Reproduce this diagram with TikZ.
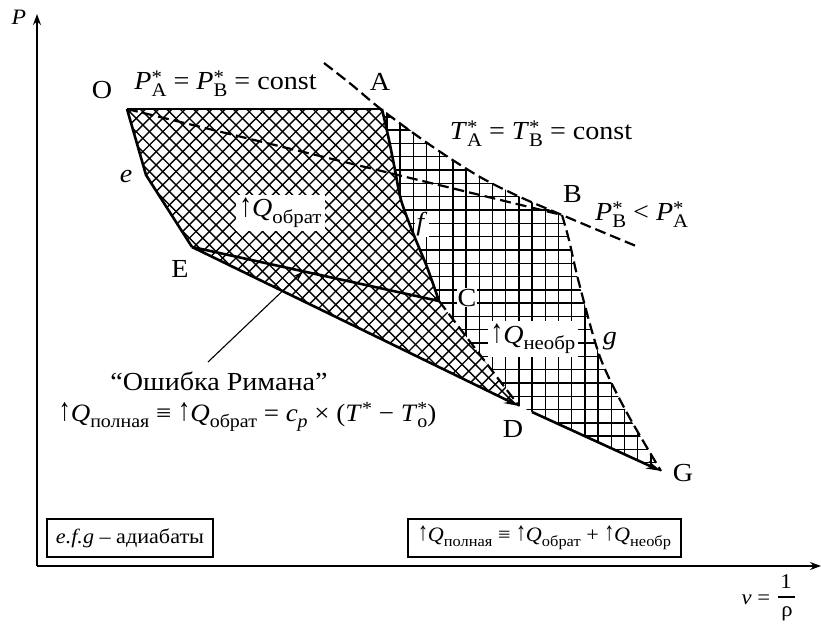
\documentclass[tikz,border=0pt]{standalone}
\usepackage{fontspec}
\setmainfont{Liberation Serif}[FakeStretch=1.08]
\usepackage{graphicx}
\usetikzlibrary{arrows.meta,calc}

\newcommand\lox[1]{\raisebox{-0.25em}{\scalebox{0.74}{#1}}}
\newcommand\upx[1]{\raisebox{0.26em}{\scalebox{0.74}{#1}}}
\newcommand\sx[1]{\rlap{\upx{*}}\lox{#1}}
\newcommand\uar{\raisebox{0.02em}{\scalebox{0.9}[1.28]{↑}}}

\begin{document}
\begin{tikzpicture}[x=1pt,y=-1pt,
  lbl/.style={inner sep=0pt, font=\fontsize{26}{30}\selectfont},
  smalllbl/.style={inner sep=0pt, font=\fontsize{21}{25}\selectfont},
  whitelbl/.style={lbl, fill=white, inner sep=3pt},
  thickline/.style={line width=2.6pt, line join=round},
  dashline/.style={line width=2.2pt, dash pattern=on 11pt off 5pt},
  hatchline/.style={line width=1.4pt},
  axis/.style={line width=1.4pt, -{Stealth[length=11pt,width=8pt]}},
  endarrow/.style={-{Stealth[length=15pt,width=8pt]}},
  boxlbl/.style={draw, line width=1.2pt, inner sep=0pt, font=\fontsize{20.5}{25}\selectfont}
]
\useasboundingbox (0,0) rectangle (821,628);

% key points
\coordinate (O) at (127,109);
\coordinate (A) at (382,109);
\coordinate (B) at (562,215);
\coordinate (C) at (439,301);
\coordinate (D) at (519,406);
\coordinate (Dp) at (532,412);
\coordinate (E) at (192,247);
\coordinate (G) at (661,471);
\coordinate (ek) at (146,175);
\coordinate (Ttop) at (324,63);
\coordinate (Tend) at (636,246);

% cross-hatched region (reversible heat)
\begin{scope}
\clip (O) -- (A) -- plot[smooth] coordinates {(382,109) (389,140) (395,170) (401,200) (413,233) (427,267) (439,301)} -- (D) -- (E) -- (ek) -- cycle;
\foreach \k in {0,...,26} {
  \pgfmathsetmacro\c{-62+13.3*\k}
  \draw[hatchline] ({\c+100},100) -- ({\c+420},420);
}
\foreach \k in {0,...,53} {
  \pgfmathsetmacro\d{228+13.3*\k}
  \draw[hatchline] ({\d-100},100) -- ({\d-420},420);
}
\end{scope}

% square grid region (irreversible heat)
\begin{scope}
\clip (A) -- (433,147) -- (480,177) -- (520,197) -- (B) -- plot[smooth] coordinates {(562,215) (569,240) (579,283) (600,357) (627,413) (661,471)} -- (D) -- (C) -- plot[smooth] coordinates {(439,301) (427,267) (413,233) (401,200) (395,170) (389,140) (382,109)} -- cycle;
\foreach \k in {-3,...,19} {
  \pgfmathsetmacro\xx{413.3+13.2*\k}
  \draw[hatchline] (\xx,95) -- (\xx,480);
}
\foreach \k in {-9,...,20} {
  \pgfmathsetmacro\yy{210+13.3*\k}
  \draw[hatchline] (370,\yy) -- (670,\yy);
}
\end{scope}

% labels on white background
\node[whitelbl, anchor=base] (qobr) at (280.5,217) {\uar\textit{Q}\lox{обрат}};
\node[whitelbl, anchor=base] (qneo) at (533,343) {\uar\textit{Q}\lox{необр}};
\node[whitelbl, inner sep=1pt] (lblf) at (422,224) {\textit{f}};
\node[whitelbl, inner sep=1pt, anchor=base] (lblC) at (467,306) {C};

% dashed lines
\draw[dashline] plot[smooth] coordinates {(Ttop) (352,85) (382,110) (433,147) (480,177) (520,197) (B) (600,231) (Tend)};
\draw[dashline] (O) -- (B);
\draw[dashline] plot[smooth] coordinates {(B) (569,240) (579,283) (600,357) (627,413) (G)};
\draw[dashline] (C) -- (D);

% solid lines
\draw[thickline] (O) -- (A);
\draw[thickline] plot[smooth] coordinates {(A) (389,140) (395,170) (401,200) (413,233) (427,267) (C)};
\draw[thickline] (O) -- (ek) -- (E);
\draw[thickline] (E) -- (C);
\draw[thickline, endarrow] (E) -- (D);
\draw[thickline, endarrow] (Dp) -- (G);

% point labels
\node[lbl, anchor=base] (lblO) at (102,99) {O};
\node[lbl, anchor=base] (lblA) at (380,91) {A};
\node[lbl, anchor=base] (lblB) at (572.5,203) {B};
\node[lbl, anchor=base] (lblD) at (513,437) {D};
\node[lbl, anchor=base] (lblE) at (180,277) {E};
\node[lbl, anchor=base] (lblG) at (683,481) {G};
\node[lbl, anchor=base] (lble) at (126,183) {\textit{e}};
\node[lbl, anchor=base] (lblg) at (610,344) {\textit{g}};

% equations
\node[lbl, anchor=base] (eqP) at (225.5,90) {\textit{P}\sx{A} = \textit{P}\sx{B} = const};
\node[lbl, anchor=base] (eqT) at (541,140) {\textit{T}\sx{A} = \textit{T}\sx{B} = const};
\node[lbl, anchor=base] (ineq) at (641.7,221) {\textit{P}\sx{B} < \textit{P}\sx{A}};

% Riemann error
\node[lbl, anchor=base] (riemann) at (219,390) {“Ошибка Римана”};
\node[lbl, anchor=base, font=\fontsize{25}{30}\selectfont] (formula) at (247.5,421) {\uar\textit{Q}\lox{полная} ≡ \uar\textit{Q}\lox{обрат} = \textit{c}\lox{\textit{p}} × (\textit{T}\upx{*} − \textit{T}\sx{o})};
\coordinate (ptrS) at (208,362);
\coordinate (ptrE) at ($(E)!0.45!(C)$);
\draw[line width=1.1pt, -{Stealth[length=10pt,width=6pt]}] (ptrS) -- (ptrE);

% axes
\coordinate (orig) at (37,566);
\coordinate (ytip) at (37,14);
\coordinate (xtip) at (821,566);
\draw[axis] (orig) -- (ytip);
\draw[axis] (orig) -- (xtip);
\node[inner sep=0pt, anchor=base, font=\fontsize{22}{26}\selectfont] (lblP) at (19,25) {\textit{P}};
\node[smalllbl, anchor=base] (lblv) at (756,604) {\textit{v} =};
\node[smalllbl, anchor=base] (num1) at (786,588) {1};
\node[smalllbl] (rho) at (787,614) {ρ};
\draw[line width=1.1pt] (778,597) -- (795,597);

% boxes
\node[boxlbl, minimum width=166pt, minimum height=38pt] (box1) at (130,538) {\textit{e.f.g} – адиабаты};
\node[boxlbl, minimum width=273pt, minimum height=38pt] (box2) at (544.5,538) {\uar\textit{Q}\lox{полная} ≡ \uar\textit{Q}\lox{обрат} + \uar\textit{Q}\lox{необр}};
\end{tikzpicture}
\end{document}
